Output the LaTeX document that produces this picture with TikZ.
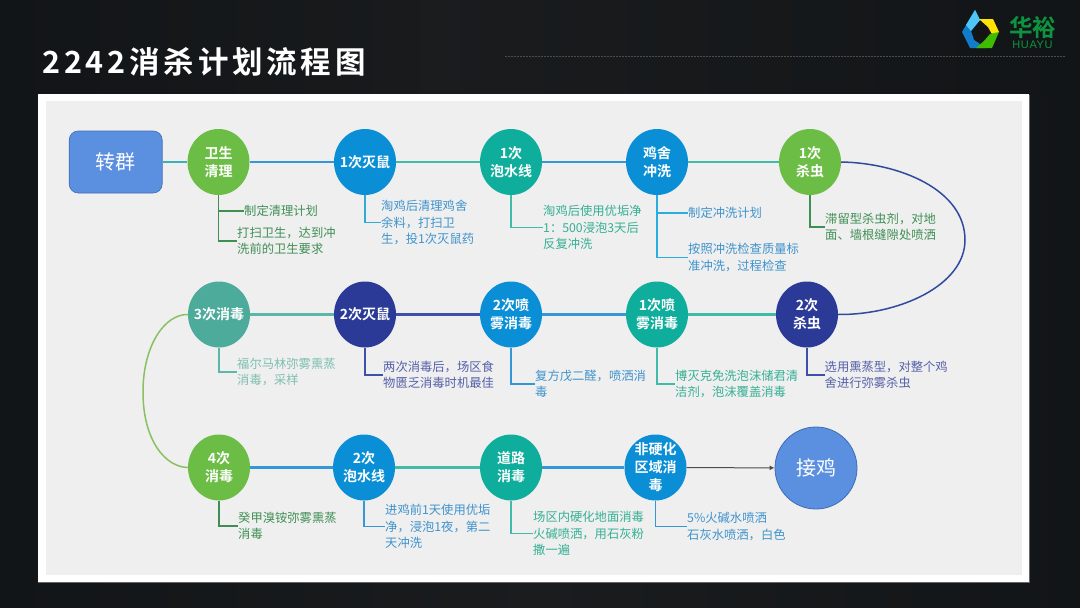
\documentclass[tikz,border=0pt]{standalone}
\usepackage{fontspec}
\setmainfont{Noto Sans CJK SC}
\newfontfamily\cjk{Noto Sans CJK SC}
\newfontfamily\titlefont[LetterSpace=12.5]{Noto Sans CJK SC Bold}
\newfontfamily\latinfont[LetterSpace=6]{Liberation Sans}
\definecolor{cgreen}{HTML}{6CBD45}
\definecolor{cblue}{HTML}{0A8FD6}
\definecolor{cteal}{HTML}{0FAE9C}
\definecolor{cnavy}{HTML}{2B3A97}
\definecolor{csea}{HTML}{4DAB9B}
\definecolor{cend}{HTML}{5B8FE0}
\definecolor{cendline}{HTML}{3F6DB5}
\definecolor{tgreen}{HTML}{3F8F55}
\definecolor{tblue}{HTML}{3F93CC}
\definecolor{tteal}{HTML}{35B094}
\definecolor{tnavy}{HTML}{5560A8}
\definecolor{tsea}{HTML}{7FBFB0}
\definecolor{lteal}{HTML}{3FBBA8}
\definecolor{lblue}{HTML}{3597D6}
\definecolor{lnavy}{HTML}{3F50A8}
\definecolor{lsea}{HTML}{5BB8A8}
\definecolor{lcurve}{HTML}{8AC060}
\definecolor{lcurveb}{HTML}{2F4A9F}
\definecolor{bgdark}{HTML}{121517}
\definecolor{bgmid}{HTML}{1A1C1E}
\definecolor{bglight}{HTML}{292B2D}
\definecolor{logogreen}{HTML}{0E9440}
\definecolor{panelgray}{HTML}{EFEFEF}
\tikzset{
  x=1pt,y=-1pt,
  stage/.style={ellipse,minimum width=62pt,minimum height=66pt,inner sep=-8pt,fill=#1,text=white,align=center,
    font=\fontspec{Noto Sans CJK SC Bold}\fontsize{14}{18}\selectfont},
  bigstage/.style={draw=cendline,line width=0.8pt,fill=cend,text=white,align=center,
    font=\fontspec{Noto Sans CJK SC}\fontsize{20}{24}\selectfont},
  note/.style={anchor=west,inner sep=0pt,align=left,text=#1,font=\cjk\fontsize{12.3}{16.5}\selectfont},
  link/.style={line width=2.4pt,draw=#1},
  stem/.style={line width=1.4pt,draw=#1},
  curveline/.style={line width=1.5pt,draw=#1},
}
\usetikzlibrary{shapes.geometric,arrows.meta}
\begin{document}
\begin{tikzpicture}
\useasboundingbox (0,0) rectangle (1080,608);
% background
\shade[left color=bgdark,right color=bgmid] (0,0) rectangle (540,608);
\shade[left color=bgmid,right color=bgdark] (540,0) rectangle (1080,608);
\shade[left color=bgmid,middle color=bglight,right color=bgdark] (420,0) rectangle (1080,94);
\draw[black!70,line width=0.5pt,dash pattern=on 2pt off 1pt] (505,56) -- (1065,56);
% title
\node[anchor=west,inner sep=0pt,text=white] (title) at (42,62) {\titlefont\fontsize{30.5}{34}\selectfont 2242消杀计划流程图};
% logo
\fill[cyan!60!blue] (975,10) -- (962,32) -- (970,48) -- (986,48) -- (974,40) -- (971,31) -- (980,20) -- cycle;
\fill[cyan!70!white] (975,10) -- (980,20) -- (971,31) -- (966,25) -- cycle;
\fill[yellow!85!orange] (979,19) -- (993,19) -- (999,32) -- (993,36) -- (988,27) -- cycle;
\fill[green!65!black!75!yellow] (999,32) -- (992,48) -- (976,48) -- (984,41) -- (990,34) -- cycle;
\fill[black!92] (982,32) circle (6.5);
\node[inner sep=0pt,text=logogreen] (logoa) at (1032.5,28) {\fontspec{Noto Sans CJK SC Bold}\fontsize{23.5}{24}\selectfont 华裕};
\node[inner sep=0pt,text=logogreen] (logob) at (1032.5,45) {\latinfont\fontsize{11}{11}\selectfont HUAYU};
% panel
\fill[black!60] (38,95) rectangle (1029.5,583);
\fill[white] (38,94) rectangle (1029,582);
\fill[panelgray] (46,101) rectangle (1022,575);

% stages row 1
\node[draw=cendline,line width=0.6pt,rounded corners=9pt,fill=cend,text=white,minimum width=93pt,minimum height=62pt,inner sep=0pt,
  font=\fontspec{Noto Sans CJK SC}\fontsize{20}{24}\selectfont] (zq) at (115.7,162) {转群};
\node[stage=cgreen] (a1) at (218.5,162) {卫生\\清理};
\node[stage=cblue] (a2) at (365,162) {1次灭鼠};
\node[stage=cteal] (a3) at (511,162) {1次\\泡水线};
\node[stage=cblue] (a4) at (657,162) {鸡舍\\冲洗};
\node[stage=cgreen] (a5) at (810,162) {1次\\杀虫};
% row 2
\node[stage=cnavy] (b1) at (807,314.5) {2次\\杀虫};
\node[stage=cteal] (b2) at (657,314.5) {1次喷\\雾消毒};
\node[stage=cblue] (b3) at (511,314.5) {2次喷\\雾消毒};
\node[stage=cnavy] (b4) at (365,314.5) {2次灭鼠};
\node[stage=csea] (b5) at (219,314.5) {3次消毒};
% row 3
\node[stage=cgreen] (c1) at (219,467.5) {4次\\消毒};
\node[stage=cblue] (c2) at (364,467.5) {2次\\泡水线};
\node[stage=cteal] (c3) at (511,467.5) {道路\\消毒};
\node[stage=cblue] (c4) at (655.5,467.5) {非硬化\\区域消\\毒};
\node[bigstage,circle,minimum size=82pt,inner sep=0pt] (jj) at (816,468) {接鸡};

% links
\draw[link=lteal!70!lblue] (zq) -- (a1);
\draw[link=lblue] (a1) -- (a2);
\draw[link=lteal] (a2) -- (a3);
\draw[link=lblue] (a3) -- (a4);
\draw[link=lteal] (a4) -- (a5);
\draw[link=lteal] (b1) -- (b2);
\draw[link=lblue] (b2) -- (b3);
\draw[link=lnavy] (b3) -- (b4);
\draw[link=lsea] (b4) -- (b5);
\draw[link=lblue] (c1) -- (c2);
\draw[link=lteal] (c2) -- (c3);
\draw[link=lblue] (c3) -- (c4);
\draw[line width=1pt,draw=black!70,-{Latex[length=5pt,width=5pt]}] (c4) -- (jj);
% curves
\coordinate (rmid) at (965,240);
\coordinate (lmid) at (143,392);
\draw[curveline=lcurveb] (a5.east) .. controls (900,163) and (965,190) .. (rmid) .. controls (965,285) and (900,315) .. (b1.east);
\draw[curveline=lcurve] (b5.west) .. controls (165,314) and (143,345) .. (lmid) .. controls (143,440) and (165,467) .. (c1.west);

% notes
\node[note=tgreen] (n1a) at (244,211) {制定清理计划};
\node[note=tgreen] (n1b) at (237,241) {打扫卫生，达到冲\\洗前的卫生要求};
\node[note=tblue] (n2) at (381,222.5) {淘鸡后清理鸡舍\\余料，打扫卫\\生，投1次灭鼠药};
\node[note=tteal] (n3) at (543,227.5) {淘鸡后使用优垢净\\1：500浸泡3天后\\反复冲洗};
\node[note=tblue] (n4a) at (688,213) {制定冲洗计划};
\node[note=tblue] (n4b) at (688,257.5) {按照冲洗检查质量标\\准冲洗，过程检查};
\node[note=tgreen] (n5) at (825,227) {滞留型杀虫剂，对地\\面、墙根缝隙处喷洒};
\node[note=tnavy] (m1) at (824.5,375) {选用熏蒸型，对整个鸡\\舍进行弥雾杀虫};
\node[note=tteal] (m2) at (675,384) {博灭克免洗泡沫储君清\\洁剂，泡沫覆盖消毒};
\node[note=tblue] (m3) at (535,384) {复方戊二醛，喷洒消\\毒};
\node[note=tnavy] (m4) at (383,375) {两次消毒后，场区食\\物匮乏消毒时机最佳};
\node[note=tsea] (m5) at (237,372) {福尔马林弥雾熏蒸\\消毒，采样};
\node[note=tgreen] (p1) at (238,526) {癸甲溴铵弥雾熏蒸\\消毒};
\node[note=tblue] (p2) at (385,526.5) {进鸡前1天使用优垢\\净，浸泡1夜，第二\\天冲洗};
\node[note=tteal] (p3) at (533,533.5) {场区内硬化地面消毒\\火碱喷洒，用石灰粉\\撒一遍};
\node[note=tblue] (p4) at (687,526.5) {5\%火碱水喷洒\\石灰水喷洒，白色};

% stems
\draw[stem=tgreen] (a1.south) |- (n1a.west);
\draw[stem=tgreen] (a1.south) |- (n1b.west);
\draw[stem=tblue!80!cyan] (a2.south) |- (n2.west);
\draw[stem=lteal] (a3.south) |- (n3.west);
\draw[stem=lblue!80!cyan] (a4.south) |- (n4a.west);
\draw[stem=lblue!80!cyan] (a4.south) |- (n4b.west);
\draw[stem=tgreen] (a5.south) |- (n5.west);
\draw[stem=lnavy] (b1.south) |- (m1.west);
\draw[stem=lteal] (b2.south) |- (m2.west);
\draw[stem=lblue] (b3.south) |- (m3.west);
\draw[stem=lnavy] (b4.south) |- (m4.west);
\draw[stem=lsea] (b5.south) |- (m5.west);
\draw[stem=tgreen] (c1.south) |- (p1.west);
\draw[stem=lblue] (c2.south) |- (p2.west);
\draw[stem=lteal] (c3.south) |- (p3.west);
\draw[stem=lblue] (c4.south) |- (p4.west);
\end{tikzpicture}
\end{document}
